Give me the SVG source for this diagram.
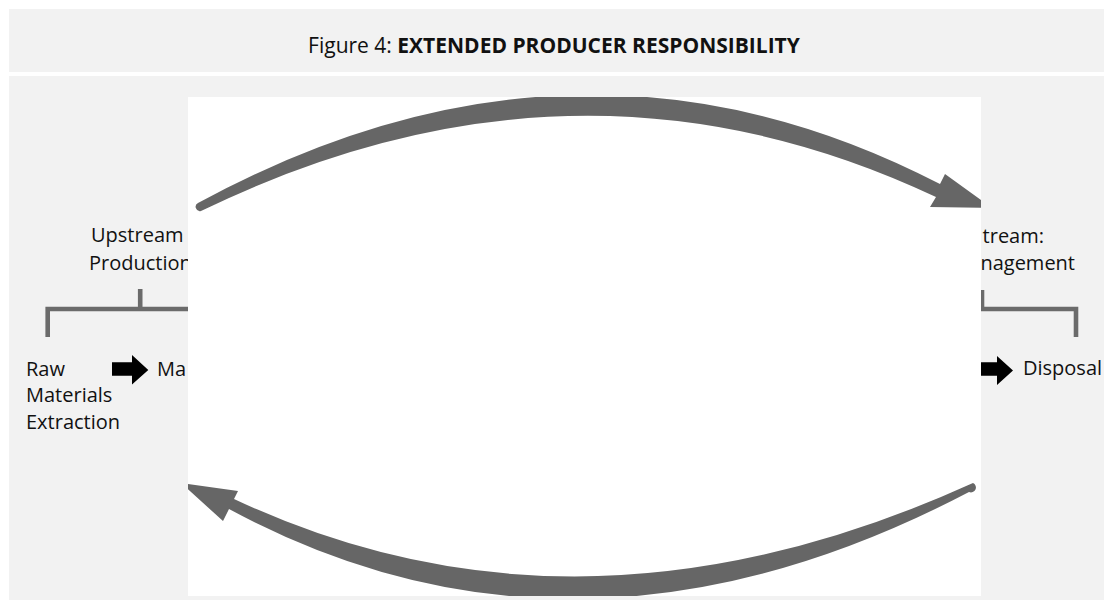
<svg xmlns="http://www.w3.org/2000/svg" width="1104" height="600" viewBox="0 0 1104 600">
<style>
.t{font-family:"Open Sans","Noto Sans",sans-serif;font-size:20px;fill:#111}
.ttl{font-size:21px}
.b{font-weight:bold}
.br{fill:none;stroke:#6b6b6b;stroke-width:4.6;stroke-linecap:butt;stroke-linejoin:miter}
.blk{fill:#000}
.arc{fill:#666}
.panel{fill:#f2f2f2}
</style>
<defs>
<clipPath id="win"><rect x="188" y="97" width="793" height="499"/></clipPath>
</defs>
<rect width="1104" height="600" fill="#fff"/>
<rect class="panel" x="9" y="9" width="1095" height="63"/>
<rect class="panel" x="9" y="76" width="1095" height="524"/>
<g id="title">
<text class="t ttl" x="554" y="53" text-anchor="middle"><tspan>Figure 4: </tspan><tspan class="b">EXTENDED PRODUCER RESPONSIBILITY</tspan></text>
</g>
<g id="upstream">
<text class="t" x="91" y="242">Upstream</text>
<text class="t" x="89" y="270">Production</text>
</g>
<g id="downstream">
<text class="t" x="1044" y="243" text-anchor="end">tream:</text>
<text class="t" x="1075" y="270" text-anchor="end">nagement</text>
</g>
<g id="raw">
<text class="t" x="26" y="376">Raw</text>
<text class="t" x="26" y="402">Materials</text>
<text class="t" x="26" y="429">Extraction</text>
</g>
<g id="ma">
<text class="t" x="157" y="376">Ma</text>
</g>
<g id="disposal">
<text class="t" x="1023" y="375">Disposal</text>
</g>
<g id="connectors">
<path class="br" d="M47.7 337 V309 H200 M140.2 289 V309"/>
<path class="br" d="M1076 337 V309 H970 M982 290 V309"/>
<polygon class="blk" points="112,362.3 132,362.3 132,355 148.3,370 132,384.5 132,375.7 112,375.7"/>
<polygon class="blk" points="975,362.3 997,362.3 997,356 1013,370.5 997,385 997,375.7 975,375.7"/>
</g>
<rect id="window" x="188" y="97" width="793" height="499" fill="#fff"/>
<g id="cycle" clip-path="url(#win)">
<path class="arc" d="M198 203 Q578 -3.5 940 184 L945 174 L992 208 L930 207 L936 197 Q578 28 201 211 A4.3 4.3 0 0 1 198 203 Z"/>
<path class="arc" d="M181 483 L238 491 L234 499 Q580 661.5 973 483 A4.6 4.6 0 0 1 969 492 Q578 697 229 509 L223 521 Z"/>
</g>
</svg>
